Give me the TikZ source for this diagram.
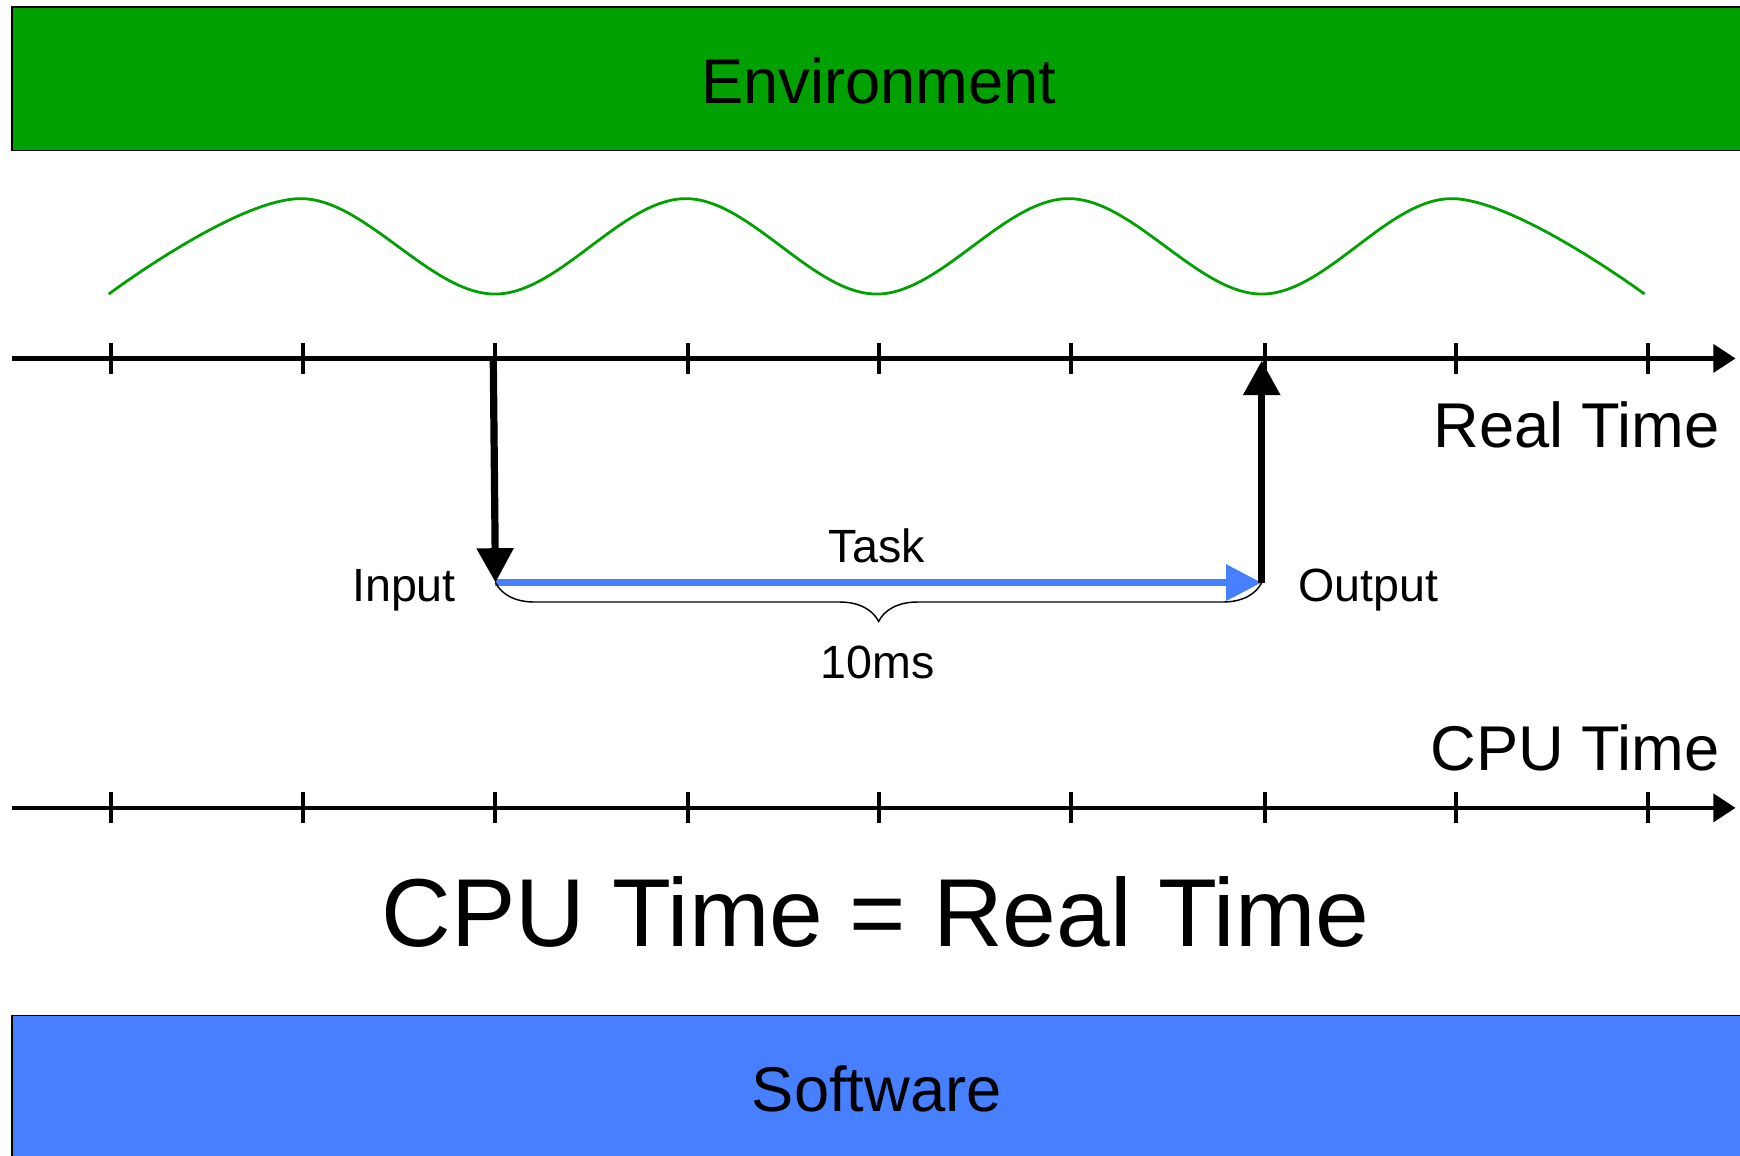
\documentclass[tikz,border=0pt]{standalone}
\usepackage{fontspec}
\setmainfont{Liberation Sans}
\usetikzlibrary{arrows.meta,decorations.pathreplacing}
\definecolor{envgreen}{RGB}{0,161,0}
\definecolor{swblue}{RGB}{70,128,255}
\begin{document}
\begin{tikzpicture}[x=1pt,y=-1pt,
  band/.style={draw=black, line width=1.5pt, rectangle, minimum width=1559pt, inner sep=0pt},
  bigfont/.style={font=\fontsize{57}{60}\selectfont},
  smallfont/.style={font=\fontsize{42}{46}\selectfont},
  lbl/.style={inner sep=0pt},
  axisline/.style={line width=4pt, -{Triangle[length=20pt,width=25pt]}},
  tickmark/.style={line width=3pt},
  blackarrow/.style={line width=6.5pt, -{Triangle[length=31pt,width=32pt]}},
  taskarrow/.style={draw=swblue, line width=7pt, -{Triangle[length=32pt,width=31pt]}},
  wave/.style={draw=envgreen, line width=2.5pt},
]
\clip (0,0) rectangle (1568,1041);
\fill[white] (0,0) rectangle (1568,1041);

% bands
\node[band, fill=envgreen, minimum height=129pt] (env) at (790.5,71) {};
\node[lbl, bigfont, anchor=base] (envtext) at (792,93) {Environment};
\node[band, fill=swblue, minimum height=136pt] (sw) at (790.5,983) {};
\node[lbl, bigfont, anchor=base] (swtext) at (790,1002) {Software};

% wave
\draw[wave] plot[smooth, tension=0.6] coordinates {(98,265) (271,179) (446,265) (618,179) (790,265) (963,179) (1137,265) (1308,179) (1482,265)};

% axes
\coordinate (rtstart) at (11,323);
\coordinate (rtend) at (1564,323);
\coordinate (cpustart) at (11,728);
\coordinate (cpuend) at (1564,728);
\draw[axisline] (rtstart) -- (rtend);
\draw[axisline] (cpustart) -- (cpuend);
\foreach \x in {100,273,446,620,792,965,1140,1312,1485}{
  \draw[tickmark] (\x,309) -- (\x,337);
  \draw[tickmark] (\x,714) -- (\x,742);
}
\node[lbl, bigfont, anchor=base east] (rtlabel) at (1550,403) {Real Time};
\node[lbl, bigfont, anchor=base east] (cpulabel) at (1550,694) {CPU Time};

% task
\coordinate (inpt) at (444.5,323);
\coordinate (tstart) at (446.5,525);
\coordinate (tend) at (1137,525);
\coordinate (outpt) at (1137,325);
\draw[taskarrow] (tstart) -- (tend);
\draw[blackarrow] (inpt) -- (tstart);
\draw[blackarrow] (tend) -- (outpt);
\draw[line width=1.3pt, decorate, decoration={brace, mirror, amplitude=35pt}] (tstart) -- (tend);

\node[lbl, smallfont, anchor=base] (task) at (790,507) {Task};
\node[lbl, smallfont, anchor=base east] (input) at (411,542) {Input};
\node[lbl, smallfont, anchor=base west] (output) at (1170,542) {Output};
\node[lbl, smallfont, anchor=base] (dur) at (791,611) {10ms};

\node[lbl, font=\fontsize{87}{91}\selectfont, anchor=base] (eq) at (789,853) {CPU Time = Real Time};
\end{tikzpicture}
\end{document}
